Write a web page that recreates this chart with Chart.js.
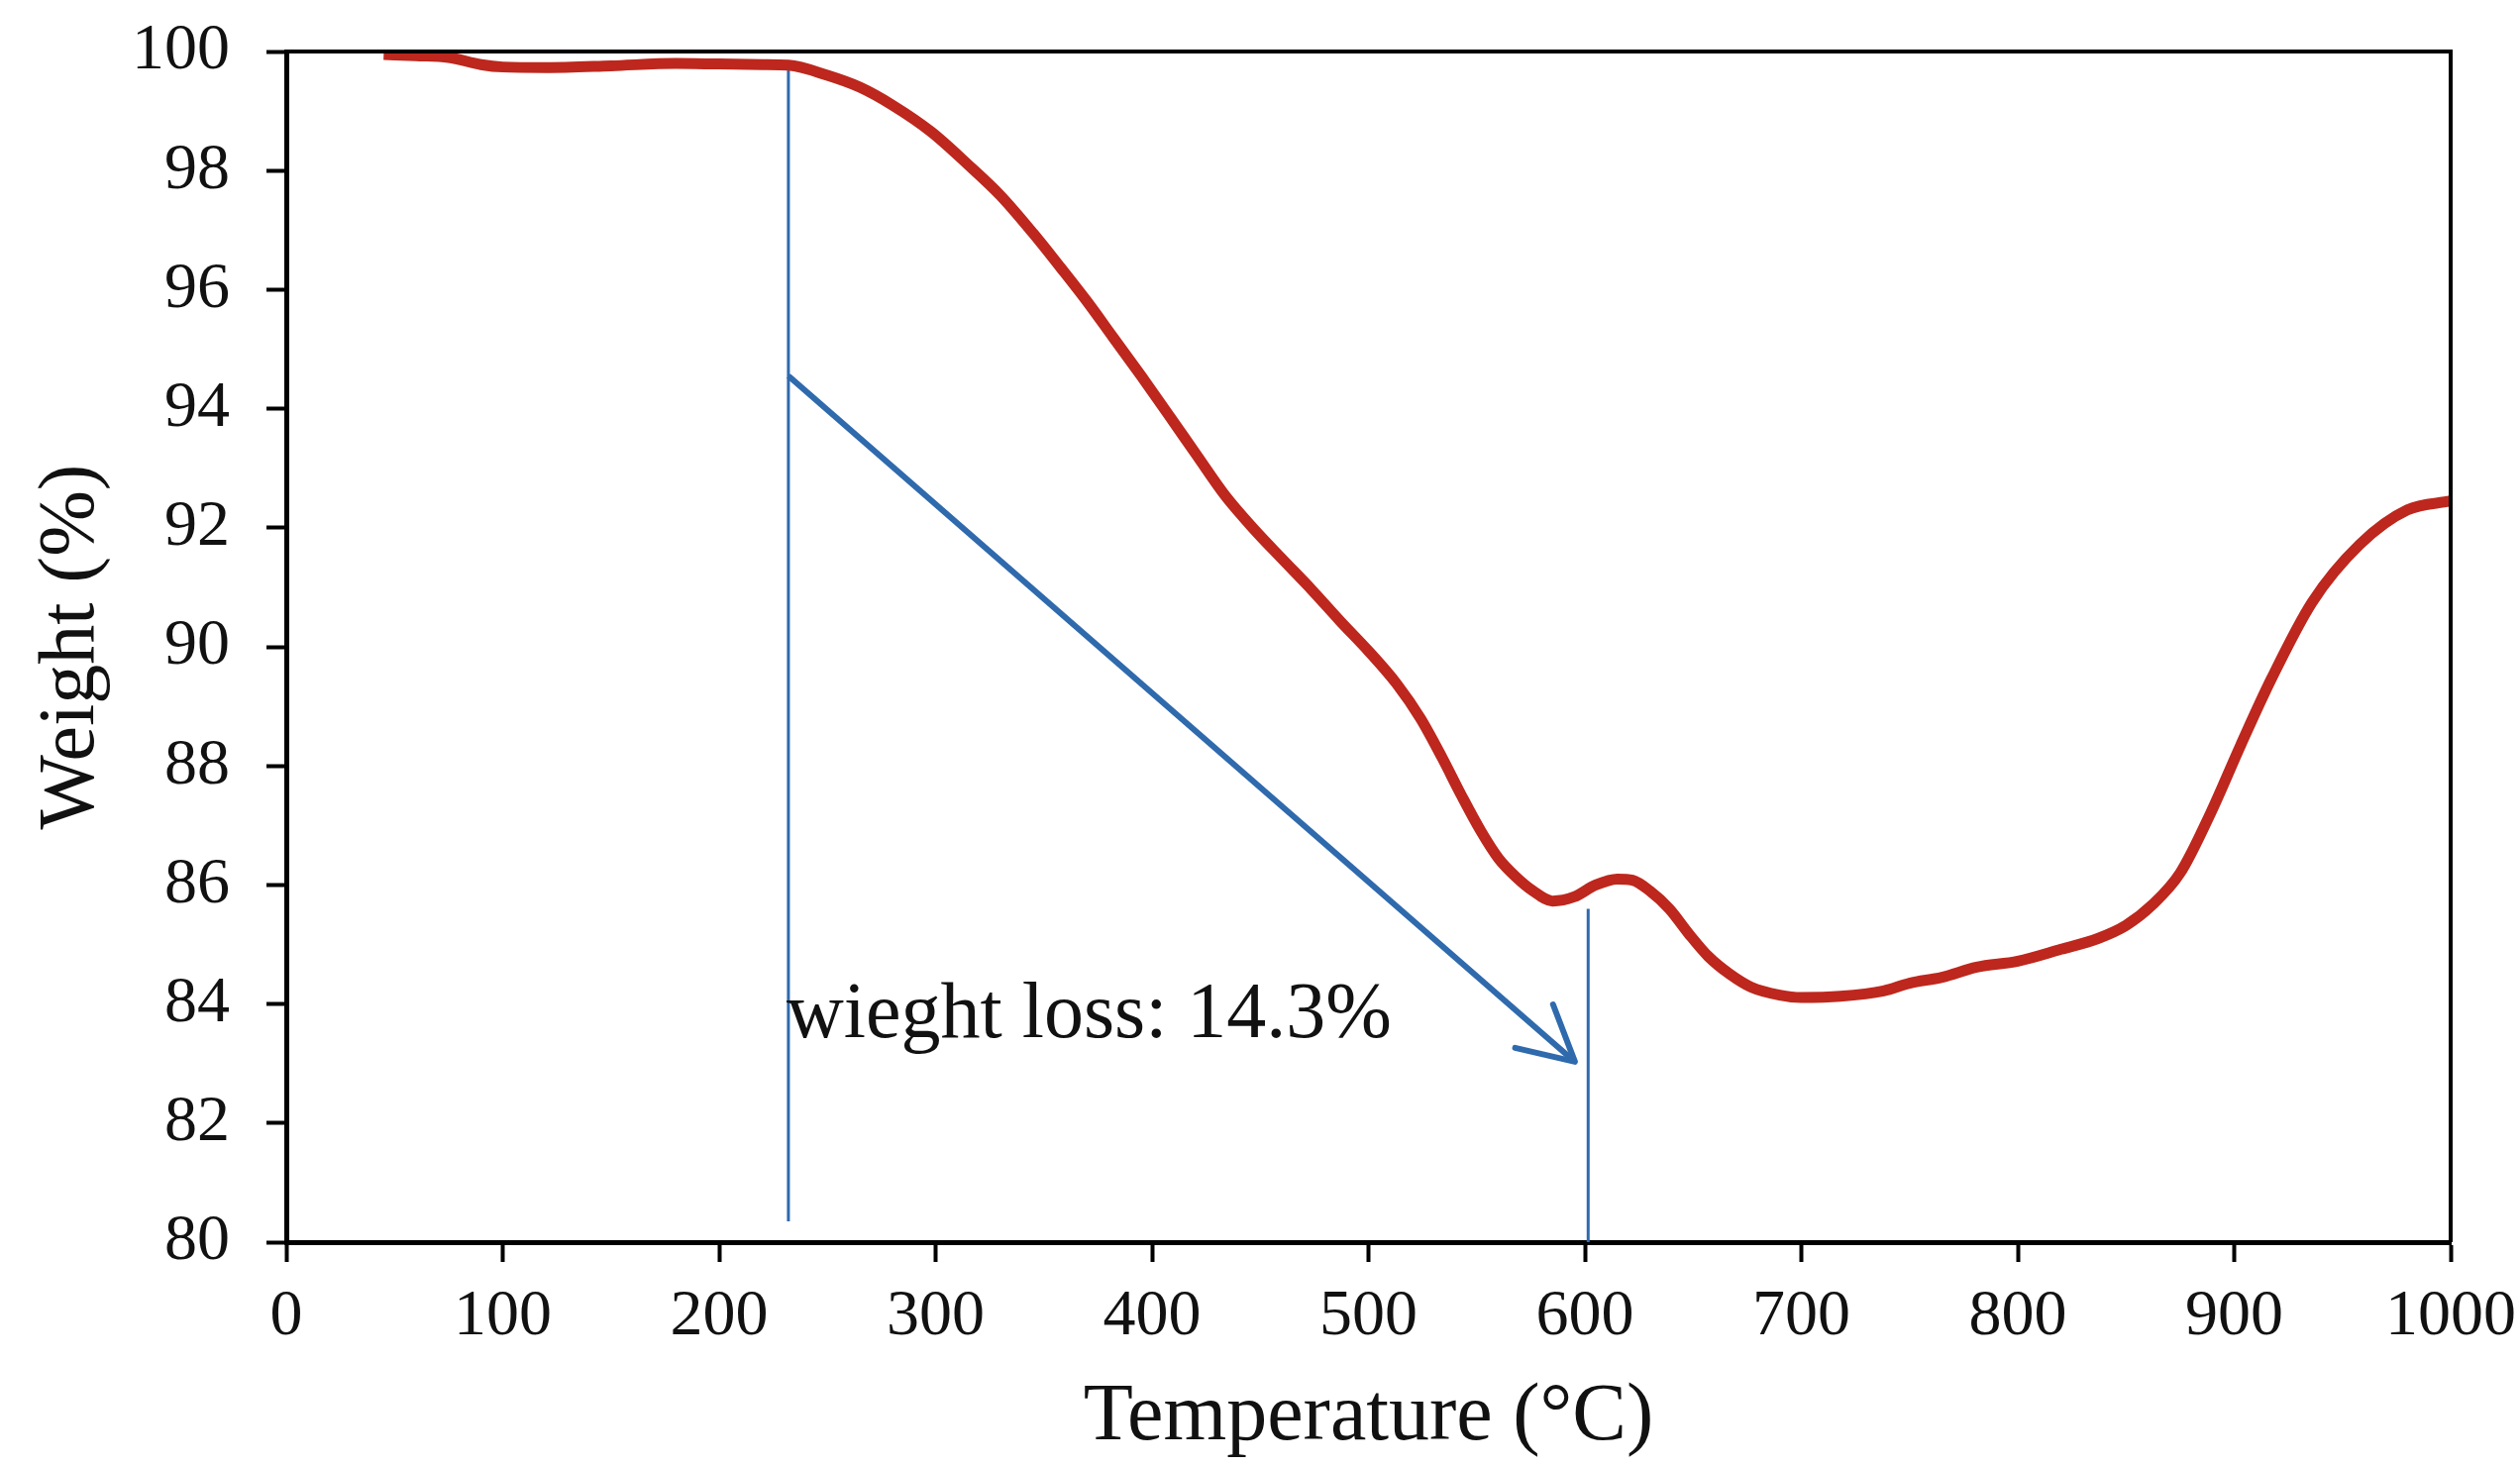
<!DOCTYPE html>
<html>
<head>
<meta charset="utf-8">
<title>TGA curve</title>
<script src="https://cdn.jsdelivr.net/npm/chart.js@4.4.1/dist/chart.umd.min.js"></script>
<style>
  html, body { margin: 0; padding: 0; background: #fff; }
  canvas { display: block; }
</style>
</head>
<body>
<canvas id="tgaChart" width="2544" height="1481"></canvas>
<script>
// TGA curve
const temperatures = [45, 60, 75, 90, 100, 120, 150, 180, 200, 220, 232, 250, 265, 280, 298, 315, 330, 345, 358, 370,
  382, 395, 408, 421, 434, 447, 460, 474, 487, 500, 513, 524, 534, 543, 552, 560, 568, 576, 585, 595,
  605, 615, 622, 630, 639, 648, 657, 667, 677, 690, 700, 718, 738, 750, 765, 781, 800, 820, 837, 850,
  862, 875, 889, 903, 917, 936, 958, 980, 1000];
const weights = [99.95, 99.93, 99.9, 99.78, 99.74, 99.73, 99.76, 99.8, 99.79, 99.78, 99.77, 99.6, 99.4, 99.1, 98.65, 98.1, 97.58, 96.95, 96.36, 95.8,
  95.2, 94.55, 93.88, 93.2, 92.53, 91.98, 91.48, 90.95, 90.43, 89.93, 89.38, 88.8, 88.14, 87.5, 86.9, 86.45, 86.14, 85.9, 85.73, 85.8,
  86.0, 86.1, 86.08, 85.9, 85.6, 85.18, 84.8, 84.5, 84.28, 84.15, 84.11, 84.13, 84.22, 84.35, 84.45, 84.62, 84.72, 84.92, 85.1, 85.32,
  85.66, 86.2, 87.2, 88.35, 89.45, 90.75, 91.72, 92.3, 92.45];

// blue marker lines
const startLineX = [232, 232];
const startLineY = [99.84, 80.35];
const endLineX = [601.5, 601.5];
const endLineY = [85.6, 80];
const arrowX = [232, 595.4];
const arrowY = [94.55, 83.03];

const lossLabel = "wieght loss: 14.3%";
const lossLabelAt = { x: 232, y: 83.45 };

const xTicks = [0, 100, 200, 300, 400, 500, 600, 700, 800, 900, 1000];
const yTicks = [80, 82, 84, 86, 88, 90, 92, 94, 96, 98, 100];

const RED = "#bd271d";
const BLUE = "#2f6aad";
const FONT = "'Liberation Serif', 'Times New Roman', serif";

const toPoints = (xs, ys) => xs.map((x, i) => ({ x, y: ys[i] }));

// frame, arrow head and label
const extras = {
  id: "extras",
  afterDatasetsDraw(chart) {
    const { ctx, chartArea, scales } = chart;
    ctx.save();
    ctx.strokeStyle = "#000";
    ctx.lineWidth = 4;
    ctx.beginPath();
    ctx.moveTo(chartArea.left, chartArea.top);
    ctx.lineTo(chartArea.right, chartArea.top);
    ctx.lineTo(chartArea.right, chartArea.bottom);
    ctx.stroke();

    // arrow head
    const meta = chart.getDatasetMeta(3);
    const p0 = meta.data[0], p1 = meta.data[1];
    const ang = Math.atan2(p1.y - p0.y, p1.x - p0.x);
    const len = 62, spread = 28 * Math.PI / 180;
    ctx.strokeStyle = BLUE;
    ctx.lineWidth = 6;
    ctx.lineCap = "round";
    ctx.lineJoin = "round";
    ctx.beginPath();
    ctx.moveTo(p1.x - len * Math.cos(ang - spread), p1.y - len * Math.sin(ang - spread));
    ctx.lineTo(p1.x, p1.y);
    ctx.lineTo(p1.x - len * Math.cos(ang + spread), p1.y - len * Math.sin(ang + spread));
    ctx.stroke();

    // label
    ctx.fillStyle = "#111";
    ctx.font = "80px " + FONT;
    ctx.textBaseline = "alphabetic";
    ctx.textAlign = "left";
    ctx.fillText(lossLabel, scales.x.getPixelForValue(lossLabelAt.x) - 2, scales.y.getPixelForValue(lossLabelAt.y));
    ctx.restore();
  }
};

new Chart(document.getElementById("tgaChart").getContext("2d"), {
  type: "line",
  data: {
    datasets: [
      {
        label: "TGA",
        data: toPoints(temperatures, weights),
        borderColor: RED,
        borderWidth: 11,
        pointRadius: 0,
        cubicInterpolationMode: "monotone",
        fill: false
      },
      {
        data: toPoints(startLineX, startLineY),
        borderColor: BLUE,
        borderWidth: 3,
        pointRadius: 0
      },
      {
        data: toPoints(endLineX, endLineY),
        borderColor: BLUE,
        borderWidth: 3,
        pointRadius: 0,
        clip: false
      },
      {
        data: toPoints(arrowX, arrowY),
        borderColor: BLUE,
        borderWidth: 6,
        pointRadius: 0
      }
    ]
  },
  options: {
    responsive: false,
    devicePixelRatio: 1,
    animation: false,
    layout: { padding: { top: 52, right: 70, left: 0, bottom: 0 } },
    plugins: { legend: { display: false }, tooltip: { enabled: false } },
    scales: {
      x: {
        type: "linear",
        min: 0,
        max: 1000,
        afterBuildTicks: s => { s.ticks = xTicks.map(v => ({ value: v })); },
        afterFit: s => { s.height = 227; s.paddingLeft = 0; s.paddingRight = 0; },
        grid: { drawOnChartArea: false, drawTicks: true, tickLength: 20, tickWidth: 4, tickColor: "#000" },
        border: { display: true, color: "#000", width: 5 },
        ticks: {
          color: "#111",
          padding: 16,
          maxRotation: 0,
          callback: v => String(v),
          font: { family: FONT, size: 66 }
        },
        title: {
          display: true,
          text: "Temperature (°C)",
          color: "#111",
          padding: { top: 0, bottom: 0 },
          font: { family: FONT, size: 82 }
        }
      },
      y: {
        min: 80,
        max: 100,
        afterBuildTicks: s => { s.ticks = yTicks.map(v => ({ value: v })); },
        afterFit: s => { s.width = 289; s.paddingTop = 0; s.paddingBottom = 0; },
        grid: { drawOnChartArea: false, drawTicks: true, tickLength: 20, tickWidth: 4, tickColor: "#000" },
        border: { display: true, color: "#000", width: 5 },
        ticks: { color: "#111", padding: 37, callback: v => String(v), font: { family: FONT, size: 66 } },
        title: {
          display: true,
          text: "Weight (%)",
          color: "#111",
          padding: { top: 25, bottom: 0 },
          font: { family: FONT, size: 80 }
        }
      }
    }
  },
  plugins: [extras]
});
</script>
</body>
</html>
